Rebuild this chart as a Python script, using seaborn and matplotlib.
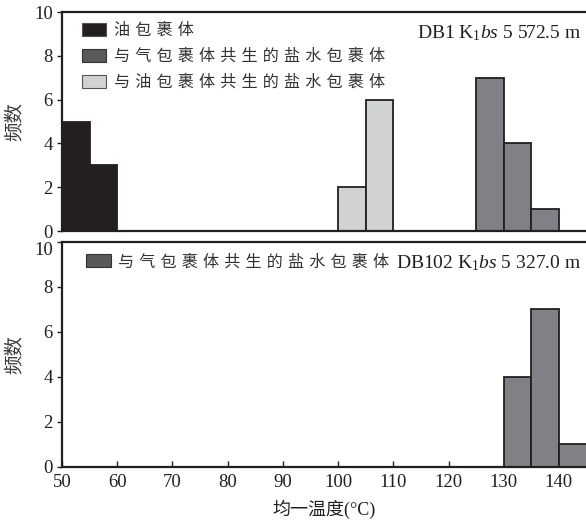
import numpy as np
import pandas as pd
import matplotlib
matplotlib.use("Agg")
import matplotlib.pyplot as plt
from matplotlib.patches import Patch
import seaborn as sns

# ---- data (homogenization temperature bins, °C -> frequency) ----
top_oil_temp = [52.5, 57.5]
top_oil_count = [5, 3]
top_oilbrine_temp = [102.5, 107.5]
top_oilbrine_count = [2, 6]
top_gasbrine_temp = [127.5, 132.5, 137.5]
top_gasbrine_count = [7, 4, 1]
bot_gasbrine_temp = [132.5, 137.5, 142.5]
bot_gasbrine_count = [4, 7, 1]

x_ticks = [50, 60, 70, 80, 90, 100, 110, 120, 130, 140]
y_ticks = [0, 2, 4, 6, 8, 10]

lab_oil = "油包裹体"
lab_gasbrine = "与气包裹体共生的盐水包裹体"
lab_oilbrine = "与油包裹体共生的盐水包裹体"
top_note = r"DB1 K$_{\mathrm{1}}$$\mathit{bs}$ 5 572.5 m"
bot_note = r"DB102 K$_{\mathrm{1}}$$\mathit{bs}$ 5 327.0 m"
ylab = "频数"
xlab = "均一温度(°C)"

# ---- style ----
sns.set_theme(style="white")
plt.rcParams['font.family'] = ['Liberation Serif', 'Noto Sans CJK SC', 'DejaVu Sans']
plt.rcParams['mathtext.fontset'] = 'custom'
plt.rcParams['mathtext.rm'] = 'Liberation Serif'
plt.rcParams['mathtext.it'] = 'Liberation Serif:italic'

C_BLACK = "#231f20"
C_DARK = "#808186"
C_DARK_LEG = "#58595b"
C_LIGHT = "#d1d2d4"
EDGE = "#231f20"
FAM = ['Liberation Serif', 'Noto Sans CJK SC', 'DejaVu Sans']
LEG_FAM = ['DejaVu Sans', 'Noto Sans CJK SC']


def spaced(s):
    return " ".join(list(s))


def hist(ax, temps, counts, color):
    df = pd.DataFrame({"t": temps, "n": counts})
    lo, hi = min(temps) - 2.5, max(temps) + 2.5
    sns.histplot(data=df, x="t", weights="n", binwidth=5, binrange=(lo, hi), ax=ax,
                 color=color, edgecolor=EDGE, linewidth=1.3, alpha=1,
                 fill=True, stat="count", legend=False)


fig = plt.figure(figsize=(5.86, 5.23), dpi=100)
ax1 = fig.add_axes([0.1058, 0.5583, 0.8942, 0.4187])
ax2 = fig.add_axes([0.1058, 0.1071, 0.8942, 0.4302])

hist(ax1, top_oil_temp, top_oil_count, C_BLACK)
hist(ax1, top_oilbrine_temp, top_oilbrine_count, C_LIGHT)
hist(ax1, top_gasbrine_temp, top_gasbrine_count, C_DARK)
hist(ax2, bot_gasbrine_temp, bot_gasbrine_count, C_DARK)

for ax in (ax1, ax2):
    ax.set_xlim(50, 144.9)
    ax.set_ylim(0, 10)
    ax.set_yticks(y_ticks)
    ax.set_xticks(x_ticks)
    for side in ("left", "bottom", "top"):
        ax.spines[side].set_visible(True)
        ax.spines[side].set_color(C_BLACK)
        ax.spines[side].set_linewidth(1.6)
    ax.spines["right"].set_visible(False)
    ax.tick_params(axis="y", direction="out", length=3.5, width=1.0,
                   color=C_BLACK, pad=3, labelsize=13.5, labelcolor=C_BLACK, left=True)
    ax.tick_params(axis="x", direction="in", length=4, width=1.0,
                   color=C_BLACK, pad=5, labelsize=13.5, labelcolor=C_BLACK, bottom=True)
    ax.set_ylabel(ylab, fontsize=14, color="#3a3a3a", family=['Noto Sans CJK SC', 'DejaVu Sans'])
    ax.yaxis.set_label_coords(-0.07, 0.5)
    ax.set_xlabel("")
    ax.patch.set_alpha(0)

ax1.tick_params(axis="x", bottom=False, labelbottom=False)
ax2.set_xlabel(xlab, fontsize=13, color=C_BLACK, labelpad=6, family=FAM)
# the bottom panel's top label sits a little lower, clear of the "0" above
ax2.get_yticklabels()[-1].set_va("top")

# legends
leg_kw = dict(frameon=False, prop={"family": LEG_FAM, "size": 11.6}, handlelength=1.5,
              handleheight=0.85, handletextpad=0.45, labelspacing=0.65,
              borderaxespad=0.2, labelcolor="#333333")
h1 = [Patch(facecolor=C_BLACK, edgecolor="#555555", linewidth=0.8),
      Patch(facecolor=C_DARK_LEG, edgecolor="#333333", linewidth=0.8),
      Patch(facecolor=C_LIGHT, edgecolor="#555555", linewidth=0.8)]
leg1 = ax1.legend(h1, [spaced(lab_oil), spaced(lab_gasbrine), spaced(lab_oilbrine)],
                  loc="upper left", bbox_to_anchor=(0.02, 0.995), **leg_kw)

h2 = [Patch(facecolor=C_DARK_LEG, edgecolor="#333333", linewidth=0.8)]
leg2 = ax2.legend(h2, [spaced(lab_gasbrine)], loc="upper left",
                  bbox_to_anchor=(0.028, 0.99), **leg_kw)

ax1.text(0.99, 0.95, top_note, transform=ax1.transAxes, ha="right", va="top",
         fontsize=14, color=C_BLACK, family=FAM)
ax2.text(0.99, 0.95, bot_note, transform=ax2.transAxes, ha="right", va="top",
         fontsize=14, color=C_BLACK, family=FAM)

fig.savefig("out.png", dpi=100)
